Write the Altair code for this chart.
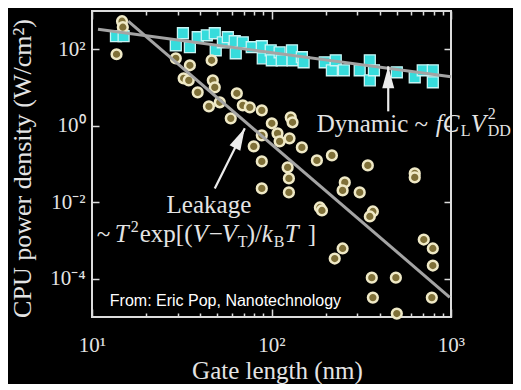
import altair as alt
import pandas as pd

# ---- data ----
# Dynamic power (cyan squares): gate length (nm) / power density (W/cm^2)
dyn_len = [13.6, 15.0, 29.3, 32.1, 35.1, 38.8, 43.6, 48.3, 48.9, 53.6, 57.1, 62.4, 63.2,
           69.2, 77.6, 88.3, 89.4, 99, 100.4, 111, 114, 130, 131, 147.6, 151, 198, 217,
           228, 253, 310, 353, 353, 372, 499, 628, 696, 792, 792]
dyn_pow = [219, 219, 127, 262, 113, 206, 232, 262, 94, 152, 206, 162, 78.5,
           152, 113, 120, 58, 94, 51.5, 83.4, 51.5, 94, 51.5, 61.8, 45.7, 45.7, 28.2,
           51.5, 28.2, 28.2, 51.5, 15.4, 28.2, 25.0, 18.5, 28.2, 28.2, 13.7]

# Leakage power (olive circles)
leak_len = [14.7, 14.85, 13.7, 29.3, 35.1, 46.4, 32.4, 34.6, 47.1, 48.3, 38.8, 64.1, 44.8,
            51.5, 69.2, 75.7, 88.3, 59.3, 100.4, 88.3, 108, 111, 126, 128, 131, 79.6, 147.6,
            88.3, 179, 217, 344, 123, 125, 125, 88.3, 186, 191, 256, 249, 310, 367, 353,
            628, 628, 249, 225, 362, 493, 367, 499, 705, 792, 792, 782]
leak_pow = [541, 377, 74, 58, 38.1, 51.5, 17.4, 15.4, 15.4, 10.1, 7.48, 7.05, 3.22,
            4.10, 3.42, 3.03, 2.53, 1.56, 1.16, 0.561, 0.632, 0.391, 0.468, 1.66, 1.23, 0.289, 0.272,
            0.117, 0.124, 0.168, 0.0918, 0.0815, 0.042, 0.0181, 0.023, 0.00731, 0.0061, 0.033, 0.0204,
            0.0181, 0.00574, 0.00425, 0.0567, 0.0446, 6.18e-4, 3.38e-4, 1.07e-4, 1.07e-4, 3.22e-5,
            1.23e-5, 1.06e-3, 6.18e-4, 2.22e-4, 3.22e-5]

# fit lines
dyn_fit_len = [10.8, 1000]
dyn_fit_pow = [334, 19.0]
leak_fit_len = [15.9, 984]
leak_fit_pow = [541, 3.28e-5]

# arrows (tail -> tip)
arrow_tail_len = [447, 48.3]
arrow_tail_pow = [2.38, 0.023]
arrow_tip_len = [447, 71.0]
arrow_tip_pow = [35.9, 0.855]
arrow_angle = [0, 26.6]

# annotation anchors
dyn_text_at = (178.6, 0.684)
leak1_text_at = (44.8, 5.09e-3)
leak2_text_at = (10.63, 8.87e-4)
credit_text_at = (12.57, 1.99e-5)

# ticks
x_major = [10, 100, 1000]
x_minor = [20, 30, 40, 50, 60, 70, 80, 90, 200, 300, 400, 500, 600, 700, 800, 900]
y_major = [1e-4, 1e-2, 1, 100]
sup = ["⁻⁵", "⁻⁴", "⁻³", "⁻²", "⁻¹", "⁰", "¹", "²", "³"]

# ---- styles ----
SERIF = "Liberation Serif"
SANS = "Liberation Sans"
TXT = "#e4e4e4"
FRAME = "#dcdcdc"
LINE = "#a4a4a4"
ARROW = "#ececec"
CYAN = "#36dcdc"
CYAN_EDGE = "#c8f4f4"
OLIVE = "#7f7038"
OLIVE_EDGE = "#efe9c6"

LBL = "'10' + [" + ",".join("'%s'" % s for s in sup) + "][round(log(datum.value)/LN10)+5]"

XS = alt.Scale(type="log", domain=[10, 1000], nice=False)
YS = alt.Scale(type="log", domain=[1e-5, 1e3], nice=False)

AX = dict(grid=False, domain=False, tickColor=FRAME, tickWidth=1.5,
          labelFont=SERIF, labelFontSize=21, labelColor=TXT,
          titleFont=SERIF, titleColor=TXT, titleFontWeight="normal")

x_bottom = alt.Axis(orient="bottom", values=x_major, labelExpr=LBL, tickSize=8, offset=-8,
                    labelPadding=17, labelFlush=False, labelOverlap=False,
                    title="Gate length (nm)", titleFontSize=25, titleBaseline="alphabetic",
                    titleY=69, titleX=185, **AX)
x_bottom_minor = alt.Axis(orient="bottom", values=x_minor, labels=False, tickSize=4,
                          offset=-4, title=None, **AX)
x_top = alt.Axis(orient="top", values=x_major, labels=False, tickSize=8, offset=-8,
                 title=None, **AX)
x_top_minor = alt.Axis(orient="top", values=x_minor, labels=False, tickSize=4, offset=-4,
                       title=None, **AX)
y_left = alt.Axis(orient="left", values=y_major, labelExpr=LBL, tickSize=7, offset=-7,
                  labelPadding=7, labelFlush=False, labelOverlap=False,
                  title="CPU power density (W/cm²)", titleFontSize=26,
                  titleBaseline="alphabetic", titleAngle=270, titleX=-69, titleY=157, **AX)
y_right = alt.Axis(orient="right", values=y_major, labels=False, tickSize=7, offset=-7,
                   title=None, **AX)


def enc(xa=None, ya=None, xf="x", yf="y"):
    return dict(x=alt.X(f"{xf}:Q", scale=XS, axis=xa), y=alt.Y(f"{yf}:Q", scale=YS, axis=ya))


dyn_df = pd.DataFrame({"x": dyn_len, "y": dyn_pow})
leak_df = pd.DataFrame({"x": leak_len, "y": leak_pow})
dfit_df = pd.DataFrame({"x": dyn_fit_len, "y": dyn_fit_pow})
lfit_df = pd.DataFrame({"x": leak_fit_len, "y": leak_fit_pow})
arr_df = pd.DataFrame({"x": arrow_tail_len, "y": arrow_tail_pow,
                       "x2": arrow_tip_len, "y2": arrow_tip_pow, "a": arrow_angle})

squares = alt.Chart(dyn_df).mark_square(size=120, fill=CYAN, stroke=CYAN_EDGE, strokeWidth=1.3,
                                        opacity=1).encode(**enc(x_bottom, y_left))
circles = alt.Chart(leak_df).mark_circle(size=95, fill=OLIVE, stroke=OLIVE_EDGE, strokeWidth=2.5,
                                         opacity=1).encode(**enc(x_bottom_minor, y_right))
dfit = alt.Chart(dfit_df).mark_line(color=LINE, strokeWidth=3).encode(**enc(x_top, None))
lfit = alt.Chart(lfit_df).mark_line(color=LINE, strokeWidth=3).encode(**enc(x_top_minor, None))

shaft = alt.Chart(arr_df).mark_rule(color=ARROW, strokeWidth=2.2).encode(
    **enc(), x2=alt.X2("x2:Q"), y2=alt.Y2("y2:Q"))
HEAD = "M0,0L-0.6,2.2L0.6,2.2Z"
head = alt.Chart(arr_df).mark_point(shape=HEAD, filled=True, size=400, color=ARROW,
                                    opacity=1).encode(**enc(xf="x2", yf="y2"),
                                                      angle=alt.Angle("a:Q", scale=None))


def txt(at, s, dx=0, dy=0, size=25, italic=False, font=SERIF, align="left", color=TXT):
    df = pd.DataFrame({"x": [at[0]], "y": [at[1]]})
    return alt.Chart(df).mark_text(text=s, dx=dx, dy=dy, fontSize=size,
                                   fontStyle="italic" if italic else "normal", font=font,
                                   align=align, baseline="alphabetic", color=color).encode(**enc())


texts = [
    # Dynamic ~ f C_L V^2_DD
    txt(dyn_text_at, "Dynamic ~", 0, 0),
    txt(dyn_text_at, "fC", 119, 0, italic=True),
    txt(dyn_text_at, "L", 144, 4, 16),
    txt(dyn_text_at, "V", 154, 0, italic=True),
    txt(dyn_text_at, "2", 171, -13, 16),
    txt(dyn_text_at, "DD", 171, 4, 16),
    # Leakage
    txt(leak1_text_at, "Leakage", 0, 0, align="center"),
    txt(leak2_text_at, "~", 0, 0),
    txt(leak2_text_at, "T", 18, 0, italic=True),
    txt(leak2_text_at, "2", 34, -10, 16),
    txt(leak2_text_at, "exp[(", 43, 0),
    txt(leak2_text_at, "V", 96, 0, italic=True),
    txt(leak2_text_at, "−", 112, 0),
    txt(leak2_text_at, "V", 125, 0, italic=True),
    txt(leak2_text_at, "T", 141, 5, 16),
    txt(leak2_text_at, ")/", 150, 0),
    txt(leak2_text_at, "k", 165, 0, italic=True),
    txt(leak2_text_at, "B", 177, 5, 16),
    txt(leak2_text_at, "T", 188, 0, italic=True),
    txt(leak2_text_at, "]", 211, 0),
    # credit
    txt(credit_text_at, "From: Eric Pop, Nanotechnology", 0, 0, 16, font=SANS, color="#ffffff"),
]

chart = alt.layer(squares, circles, dfit, lfit, shaft, head, *texts).resolve_axis(
    x="independent", y="independent"
).properties(
    width=359, height=306, background="#000000",
    padding={"left": 84, "top": 3, "right": 62, "bottom": 67},
    autosize=alt.AutoSizeParams(type="none"),
).configure_view(stroke=FRAME, strokeWidth=2)

chart.save("out.html", embed_options={"renderer": "svg", "actions": False})
